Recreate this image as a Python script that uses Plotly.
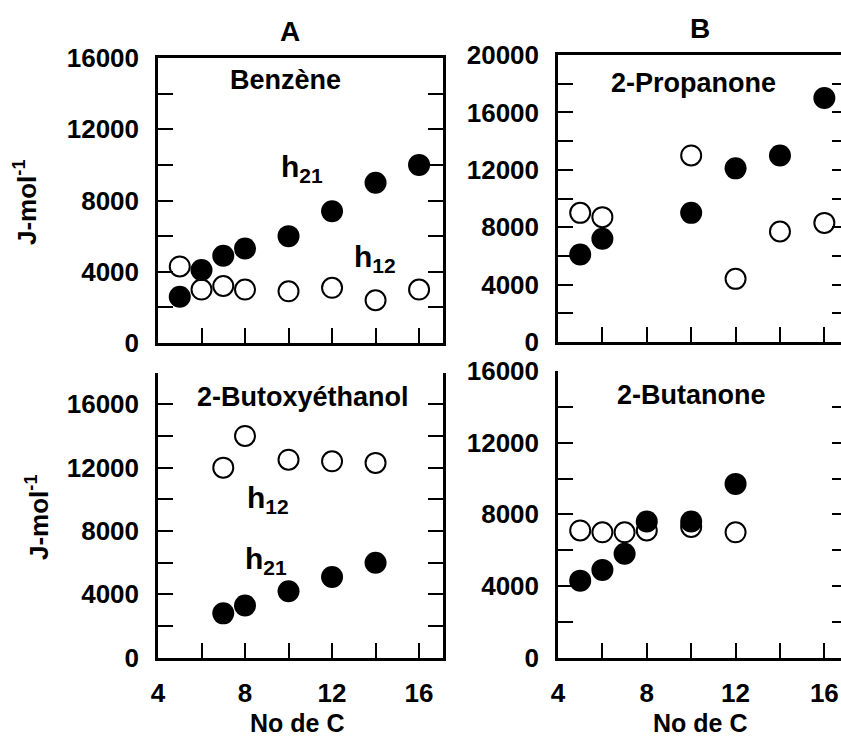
import plotly.graph_objects as go

# ---------------- data ----------------
n_carbon_benz = [5, 6, 7, 8, 10, 12, 14, 16]
benz_h21 = [2600, 4100, 4900, 5300, 6000, 7400, 9000, 10000]
benz_h12 = [4300, 3000, 3200, 3000, 2900, 3100, 2400, 3000]

n_carbon_prop = [5, 6, 10, 12, 14, 16]
prop_h21 = [6100, 7200, 9000, 12100, 13000, 17000]
prop_h12 = [9000, 8700, 13000, 4400, 7700, 8300]

n_carbon_buto = [7, 8, 10, 12, 14]
buto_h21 = [2800, 3300, 4200, 5100, 6000]
buto_h12 = [12000, 14000, 12500, 12400, 12300]

n_carbon_buta = [5, 6, 7, 8, 10, 12]
buta_h21 = [4300, 4900, 5800, 7600, 7600, 9700]
buta_h12 = [7100, 7000, 7000, 7100, 7300, 7000]

x_tickvals = [4, 6, 8, 10, 12, 14, 16]
x_ticktext = ["4", "", "8", "", "12", "", "16"]

W, H = 841, 740
FONT = "Liberation Sans, Arial, sans-serif"

def px_x(p):
    return p / W

def px_y(p):
    return 1 - p / H

fig = go.Figure()

panels = [
    ("x", "y", n_carbon_benz, benz_h12, benz_h21),
    ("x2", "y2", n_carbon_prop, prop_h12, prop_h21),
    ("x3", "y3", n_carbon_buto, buto_h12, buto_h21),
    ("x4", "y4", n_carbon_buta, buta_h12, buta_h21),
]
for xa, ya, xs, h12, h21 in panels:
    fig.add_trace(go.Scatter(x=xs, y=h12, mode="markers", xaxis=xa, yaxis=ya,
                             marker=dict(symbol="circle", size=20, color="white",
                                         line=dict(color="black", width=2)),
                             showlegend=False, hoverinfo="skip"))
    fig.add_trace(go.Scatter(x=xs, y=h21, mode="markers", xaxis=xa, yaxis=ya,
                             marker=dict(symbol="circle", size=22, color="black",
                                         line=dict(width=0)),
                             showlegend=False, hoverinfo="skip"))

tickfont = dict(family=FONT, size=26, color="black", weight="bold")

def yticks(ymax, label_step):
    vals = list(range(0, ymax + 1, 2000))
    text = [str(v) if v % label_step == 0 else "" for v in vals]
    return vals, text

def xaxis_cfg(domain, rng, anchor, show_labels, top_line):
    return dict(domain=domain, range=rng, anchor=anchor, showgrid=False, zeroline=False,
                automargin=False,
                showline=True, linecolor="black", linewidth=2.5,
                mirror=top_line, ticks="inside", ticklen=15, tickwidth=2, tickcolor="black",
                tickvals=x_tickvals, ticktext=x_ticktext if show_labels else [""] * len(x_tickvals),
                showticklabels=show_labels, tickfont=tickfont, ticklabelstandoff=10)

def yaxis_cfg(domain, ymax, anchor, mirror):
    vals, text = yticks(ymax, 4000)
    return dict(domain=domain, range=[0, ymax], anchor=anchor, showgrid=False, zeroline=False,
                automargin=False,
                showline=True, linecolor="black", linewidth=2.5,
                mirror=mirror, ticks="inside", ticklen=15, tickwidth=2, tickcolor="black",
                tickvals=vals, ticktext=text, tickfont=tickfont, ticklabelstandoff=11)

xdomL = [px_x(158), px_x(443)]
xdomR = [px_x(558), 1.0]

fig.update_layout(
    width=W, height=H, margin=dict(l=0, r=0, t=0, b=0, pad=0, autoexpand=False),
    paper_bgcolor="white", plot_bgcolor="white", showlegend=False,
    font=dict(family=FONT, color="black", weight="bold"),
    xaxis=xaxis_cfg(xdomL, [4, 17.1], "y", False, True),
    yaxis=yaxis_cfg([px_y(343), px_y(58)], 16000, "x", "ticks"),
    xaxis2=xaxis_cfg(xdomR, [4, 16.75], "y2", False, True),
    yaxis2=yaxis_cfg([px_y(342), px_y(55)], 20000, "x2", False),
    xaxis3=xaxis_cfg(xdomL, [4, 17.1], "y3", True, False),
    yaxis3=yaxis_cfg([px_y(657.7), px_y(372.6)], 18000, "x3", "ticks"),
    xaxis4=xaxis_cfg(xdomR, [4, 16.75], "y4", True, False),
    yaxis4=yaxis_cfg([px_y(657.7), px_y(371)], 16000, "x4", False),
)

# right-side inward ticks for panels B and D (their right border lies beyond the page)
for name, base, ymax, xa in [("yaxis5", "y2", 20000, "x2"), ("yaxis6", "y4", 16000, "x4")]:
    vals, _ = yticks(ymax, 4000)
    fig.layout[name] = dict(overlaying=base, side="right", anchor=xa, range=[0, ymax],
                            automargin=False,
                            showgrid=False, zeroline=False, showline=False,
                            ticks="inside", ticklen=9, tickwidth=2, tickcolor="black",
                            tickvals=vals, showticklabels=False)
fig.add_trace(go.Scatter(x=[], y=[], xaxis="x2", yaxis="y5", showlegend=False))
fig.add_trace(go.Scatter(x=[], y=[], xaxis="x4", yaxis="y6", showlegend=False))

def ann(text, x, y, size, angle=0):
    fig.add_annotation(text=text, x=px_x(x), y=px_y(y), xref="paper", yref="paper",
                       xanchor="center", yanchor="middle", showarrow=False, textangle=angle,
                       font=dict(family=FONT, size=size, color="black", weight="bold"))

ann("A", 290, 31, 28)
ann("B", 700, 28, 28)
ann("Benzène", 285, 80, 27)
ann("2-Propanone", 693, 83, 27)
ann("2-Butoxyéthanol", 303, 397, 27)
ann("2-Butanone", 691, 395, 27)
ann("h<sub>21</sub>", 302, 168, 30)
ann("h<sub>12</sub>", 375, 258, 30)
ann("h<sub>12</sub>", 268, 499, 30)
ann("h<sub>21</sub>", 266, 560, 30)
ann("J-mol<sup>-1</sup>", 25, 202, 26, -90)
ann("J-mol<sup>-1</sup>", 37, 517, 26, -90)
ann("No de C", 297, 723, 25)
ann("No de C", 700, 723, 25)

fig.write_html("out.html")
